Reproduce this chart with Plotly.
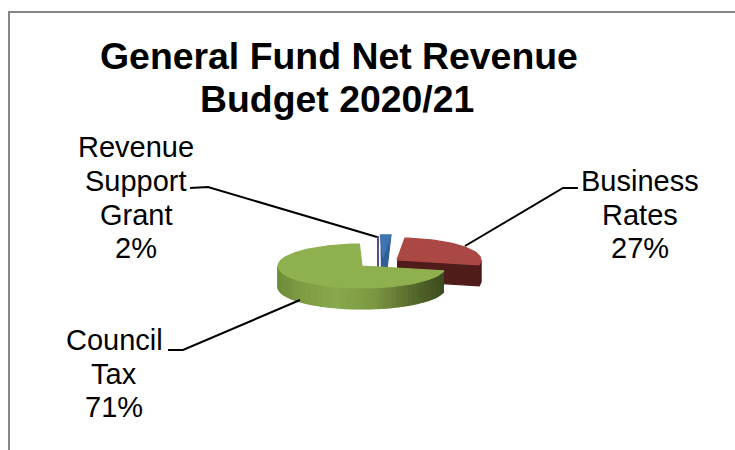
import math
import plotly.graph_objects as go

# ---- data ----
categories = ["Business Rates", "Council Tax", "Revenue Support Grant"]
values = [27, 71, 2]
label_lines = [["Business", "Rates"], ["Council", "Tax"], ["Revenue", "Support", "Grant"]]
title_lines = ["General Fund Net Revenue", "Budget 2020/21"]

# ---- styling / layout ----
FONT = "Liberation Sans"
START_ANGLE = 5.4            # degrees clockwise from 12 o'clock where the first slice starts
RX, RY, DEPTH = 84, 22, 21
CENTRES = [(397, 260), (362, 266), (383, 257)]
TOP = ["#A94845", "#8FB04F", "#3F75B2"]
RADIAL_FACE = ["#4F1C1B", "#5C7530", "#2F5F98"]
SIDE_STOPS = {
    0: [(0.0, "#6B2422"), (1.0, "#4F1C1B")],
    1: [(0.0, "#6F8C38"), (0.14, "#7D9B41"), (0.35, "#89A84B"), (0.58, "#7A9640"), (0.8, "#55692B"), (1.0, "#3A4A1E")],
    2: [(0.0, "#2C5585"), (1.0, "#2C5585")],
}
LABEL_POS = [(640, [181, 215], 248), (114, [340, 374], 407), (136, [147, 181, 215], 248)]
TITLE_POS = [(339, 56), (337, 99)]
LEADERS = [
    ([578, 563, 465], [188, 188, 246]),
    ([168, 183, 300], [350, 350, 300]),
    ([190, 208, 377], [188, 187, 237]),
]
SLIVER = ([378, 378], [236, 267])
FRAME = ([9, 9, 735], [450, 12, 12])


def hex_mix(stops, t):
    for (t0, c0), (t1, c1) in zip(stops, stops[1:]):
        if t0 <= t <= t1:
            f = (t - t0) / (t1 - t0) if t1 > t0 else 0
            a = [int(c0[i:i + 2], 16) for i in (1, 3, 5)]
            b = [int(c1[i:i + 2], 16) for i in (1, 3, 5)]
            return "rgb(%d,%d,%d)" % tuple(round(p + (q - p) * f) for p, q in zip(a, b))
    return stops[-1][1]


def pt(c, deg, dy=0):
    r = math.radians(deg)
    return c[0] + RX * math.sin(r), c[1] - RY * math.cos(r) + dy


def poly(xs, ys, color, name):
    return go.Scatter(x=xs, y=ys, mode="lines", fill="toself", fillcolor=color,
                      line=dict(color=color, width=1.2), hoverinfo="text", text=name, showlegend=False)


# slice angle spans come directly from the values
spans = []
a = START_ANGLE
for v in values:
    spans.append((a, a + v * 3.6))
    a += v * 3.6

fig = go.Figure()
fig.add_trace(go.Scatter(x=SLIVER[0], y=SLIVER[1], mode="lines",
                         line=dict(color="#5E4B86", width=2), hoverinfo="skip", showlegend=False))
for idx in (2, 0, 1):           # back to front
    c = CENTRES[idx]
    a0, a1 = spans[idx]
    name = categories[idx]
    if idx == 2:
        # small slice: the tall inner faces show below its top surface
        x0, y0 = pt(c, a0)
        x1, y1 = pt(c, a1)
        fig.add_trace(poly([x0, x1, c[0] + 3, c[0] - 2], [y0, y1, c[1] + DEPTH, c[1] + DEPTH], RADIAL_FACE[idx], name))
    # radial cut face at the trailing edge, when it faces the viewer
    if 90 < a1 < 180:
        ox, oy = pt(c, a1)
        fig.add_trace(poly([c[0], ox, ox, c[0]], [c[1], oy, oy + DEPTH, c[1] + DEPTH], RADIAL_FACE[idx], name))
    # outer wall, drawn in narrow strips for the shading
    lo, hi = max(a0, 90), min(a1, 270)
    if hi > lo:
        n = max(2, int((hi - lo) / 2))
        for k in range(n):
            d0 = lo + (hi - lo) * k / n
            d1 = lo + (hi - lo) * (k + 1) / n
            x0, y0 = pt(c, d0)
            x1, y1 = pt(c, d1)
            t = ((x0 + x1) / 2 - (c[0] - RX)) / (2 * RX)
            col = hex_mix(SIDE_STOPS[idx], min(max(t, 0), 1))
            fig.add_trace(poly([x0, x1, x1, x0], [y0, y1, y1 + DEPTH, y0 + DEPTH], col, name))
    # top surface
    steps = max(4, int((a1 - a0) / 2))
    xs, ys = [c[0]], [c[1]]
    for k in range(steps + 1):
        x, y = pt(c, a0 + (a1 - a0) * k / steps)
        xs.append(x)
        ys.append(y)
    xs.append(c[0])
    ys.append(c[1])
    fig.add_trace(poly(xs, ys, TOP[idx], name))

# leader lines
for lx, ly in LEADERS:
    fig.add_trace(go.Scatter(x=lx, y=ly, mode="lines", line=dict(color="#000000", width=2),
                             hoverinfo="skip", showlegend=False))

# texts
ann = []
for line, (x, y) in zip(title_lines, TITLE_POS):
    ann.append(dict(x=x, y=y, text="<b>%s</b>" % line, font=dict(size=37.4)))
for (x, ylist, pct_y), lines, v in zip(LABEL_POS, label_lines, values):
    for line, y in zip(lines, ylist):
        ann.append(dict(x=x, y=y, text=line, font=dict(size=29)))
    ann.append(dict(x=x, y=pct_y, text="%d%%" % v, font=dict(size=29)))
for A in ann:
    A.update(xref="x", yref="y", showarrow=False, xanchor="center", yanchor="middle")
    A["font"].update(family=FONT, color="#000000")

fig.update_layout(
    width=735, height=450, margin=dict(l=0, r=0, t=0, b=0),
    paper_bgcolor="white", plot_bgcolor="white", showlegend=False, annotations=ann,
    xaxis=dict(range=[0, 735], visible=False, fixedrange=True),
    yaxis=dict(range=[450, 0], visible=False, fixedrange=True),
    shapes=[dict(type="path", xref="x", yref="y",
                 path="M %d,%d L %d,%d L %d,%d" % (FRAME[0][0], FRAME[1][0], FRAME[0][1], FRAME[1][1], FRAME[0][2], FRAME[1][2]),
                 line=dict(color="#868686", width=2))],
)
fig.write_html("out.html", config={"displayModeBar": False},
               post_script="document.body.style.margin='0';")
